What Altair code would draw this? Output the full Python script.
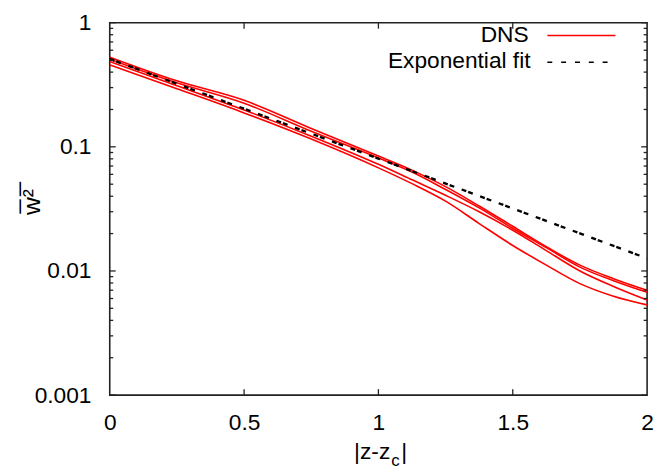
import altair as alt
import pandas as pd

# ---- data ----
x_vals = [0, 0.25, 0.5, 0.75, 1.0, 1.125, 1.25, 1.375, 1.5, 1.625, 1.75, 1.875, 2.0]
dns_1 = [0.528, 0.340, 0.237, 0.1407, 0.0843, 0.0649, 0.0478, 0.0334, 0.0229, 0.01568, 0.01114, 0.00866, 0.00698]
dns_2 = [0.509, 0.328, 0.2246, 0.1334, 0.0813, 0.0626, 0.0453, 0.0322, 0.0221, 0.0154, 0.01074, 0.00835, 0.00673]
dns_3 = [0.487, 0.311, 0.198, 0.1219, 0.0723, 0.0543, 0.0407, 0.0300, 0.0213, 0.01459, 0.0100, 0.0075, 0.00583]
dns_4 = [0.457, 0.294, 0.1877, 0.1155, 0.0677, 0.0505, 0.0365, 0.0241, 0.01605, 0.01114, 0.00791, 0.00626, 0.00533]

fit_x = [0, 1, 2]
fit_y = [0.511, 0.0804, 0.01264]

y_major = [0.001, 0.01, 0.1, 1]
y_minor = [0.002, 0.003, 0.004, 0.005, 0.006, 0.007, 0.008, 0.009,
           0.02, 0.03, 0.04, 0.05, 0.06, 0.07, 0.08, 0.09,
           0.2, 0.3, 0.4, 0.5, 0.6, 0.7, 0.8, 0.9]
x_major = [0, 0.5, 1, 1.5, 2]
x_inner = [0.5, 1, 1.5]

legend_labels = ["DNS", "Exponential fit"]

W, H = 544, 377
FONT = "Liberation Sans"
FS = 23

rows = []
for name, ys in [("run1", dns_1), ("run2", dns_2), ("run3", dns_3), ("run4", dns_4)]:
    for xv, yv in zip(x_vals, ys):
        rows.append({"run": name, "x": xv, "y": yv})
dns_df = pd.DataFrame(rows)
fit_df = pd.DataFrame({"x": fit_x, "y": fit_y})

xscale = alt.Scale(domain=[0, 2], nice=False, zero=False)
yscale = alt.Scale(type="log", domain=[0.001, 1], nice=False)

xaxis = alt.Axis(
    values=x_major, format="~g", title=None,
    ticks=False, domain=False, grid=False, labelFlush=False,
    labelFontSize=FS, labelFont=FONT, labelColor="black", labelPadding=17, labelOverlap=False)
yaxis = alt.Axis(
    values=y_major, format="~g", title="w\u0305\u00b2\u0305",
    ticks=False, domain=False, grid=False, labelFlush=False,
    labelFontSize=FS, labelFont=FONT, labelColor="black", labelPadding=19, labelOverlap=False,
    titleFont=FONT, titleFontSize=25, titleFontWeight="normal", titleColor="black",
    titleAngle=270, titleAlign="center", titleBaseline="alphabetic", titleX=-71, titleY=181)

dns = alt.Chart(dns_df).mark_line(color="#ff0000", strokeWidth=1.6, interpolate="monotone", clip=True).encode(
    x=alt.X("x:Q", scale=xscale, axis=xaxis),
    y=alt.Y("y:Q", scale=yscale, axis=yaxis),
    detail="run:N",
)

fit = alt.Chart(fit_df).mark_line(color="black", strokeWidth=2.4, strokeDash=[5, 2, 5, 8], clip=True).encode(
    x=alt.X("x:Q", scale=xscale, axis=xaxis),
    y=alt.Y("y:Q", scale=yscale, axis=yaxis),
)

ymaj_df = pd.DataFrame({"v": y_major})
ymin_df = pd.DataFrame({"v": y_minor})
xin_df = pd.DataFrame({"v": x_inner})

tick_color = "#222222"
ticks = []
for df, ln in [(ymaj_df, 6), (ymin_df, 3.5)]:
    ticks.append(alt.Chart(df).mark_rule(color=tick_color, strokeWidth=1.3).encode(
        y=alt.Y("v:Q", scale=yscale, axis=yaxis), x=alt.value(0), x2=alt.value(ln)))
    ticks.append(alt.Chart(df).mark_rule(color=tick_color, strokeWidth=1.3).encode(
        y=alt.Y("v:Q", scale=yscale, axis=yaxis), x=alt.value(W - ln), x2=alt.value(W)))
ticks.append(alt.Chart(xin_df).mark_rule(color=tick_color, strokeWidth=1.3).encode(
    x=alt.X("v:Q", scale=xscale, axis=xaxis), y=alt.value(H), y2=alt.value(H - 6)))
ticks.append(alt.Chart(xin_df).mark_rule(color=tick_color, strokeWidth=1.3).encode(
    x=alt.X("v:Q", scale=xscale, axis=xaxis), y=alt.value(0), y2=alt.value(6)))

# legend (gnuplot style: label right-aligned, sample to its right)
leg_dns = alt.Chart(pd.DataFrame({"t": [legend_labels[0]]})).mark_text(
    align="right", baseline="alphabetic", font=FONT, fontSize=FS, color="black").encode(
    text="t:N", x=alt.value(424), y=alt.value(20))
leg_fit = alt.Chart(pd.DataFrame({"t": [legend_labels[1]]})).mark_text(
    align="right", baseline="alphabetic", font=FONT, fontSize=FS, color="black").encode(
    text="t:N", x=alt.value(426), y=alt.value(46))
leg_dns_line = alt.Chart(pd.DataFrame({"t": [legend_labels[0]]})).mark_rule(
    color="#ff0000", strokeWidth=1.6).encode(x=alt.value(443), x2=alt.value(512), y=alt.value(13))
leg_fit_line = alt.Chart(pd.DataFrame({"t": [legend_labels[1]]})).mark_rule(
    color="black", strokeWidth=1.6, strokeDash=[5, 9]).encode(x=alt.value(443), x2=alt.value(512), y=alt.value(40))

# x axis title |z-z_c|
xt_main = alt.Chart(pd.DataFrame({"t": ["|z-z"]})).mark_text(
    align="right", baseline="alphabetic", font=FONT, fontSize=FS, color="black").encode(
    text="t:N", x=alt.value(284), y=alt.value(442))
xt_sub = alt.Chart(pd.DataFrame({"t": ["c"]})).mark_text(
    align="left", baseline="alphabetic", font=FONT, fontSize=17, color="black").encode(
    text="t:N", x=alt.value(285), y=alt.value(449))
xt_end = alt.Chart(pd.DataFrame({"t": ["|"]})).mark_text(
    align="left", baseline="alphabetic", font=FONT, fontSize=FS, color="black").encode(
    text="t:N", x=alt.value(295), y=alt.value(442))

chart = alt.layer(
    dns, fit, *ticks, leg_dns, leg_fit, leg_dns_line, leg_fit_line, xt_main, xt_sub, xt_end
).properties(
    width=W, height=H,
    background="white",
    autosize=alt.AutoSizeParams(type="none"),
    padding={"left": 103, "top": 12, "right": 8, "bottom": 77},
).configure_view(
    stroke="#222222", strokeWidth=1.6
)

chart.save("out.html", embed_options={"renderer": "svg", "actions": False})
